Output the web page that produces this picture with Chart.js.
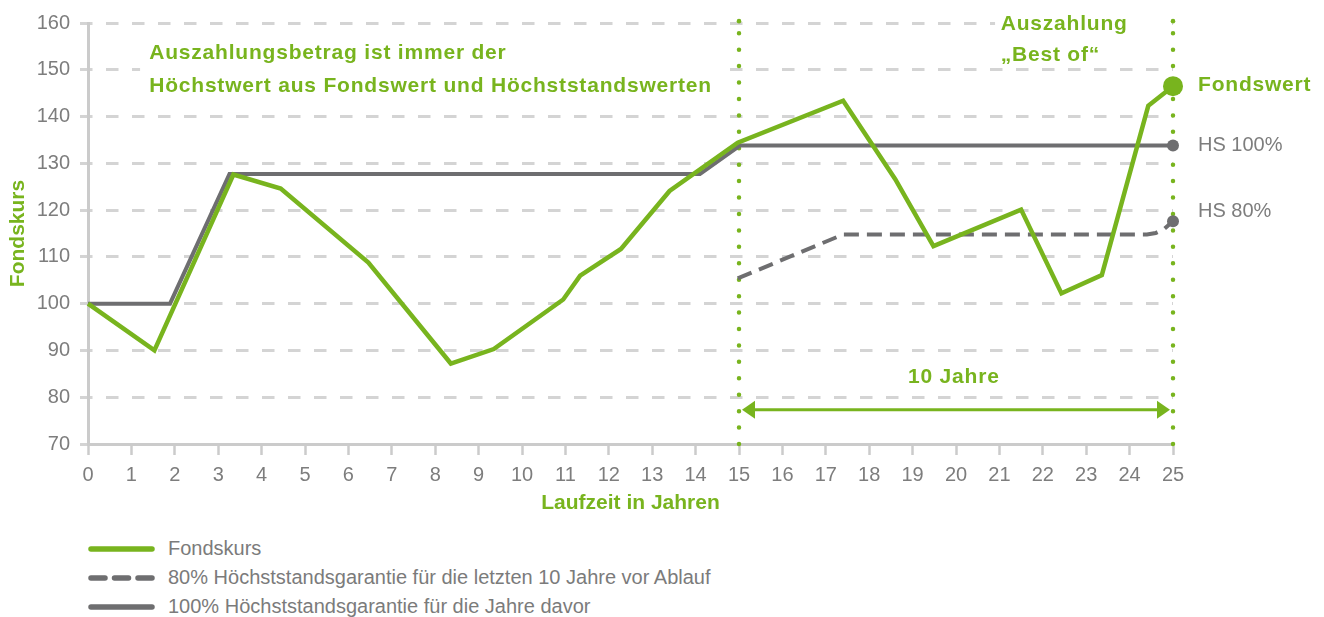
<!DOCTYPE html>
<html lang="de">
<head>
<meta charset="utf-8">
<title>Höchststandsgarantie</title>
<script src="https://cdn.jsdelivr.net/npm/chart.js@4.4.1/dist/chart.umd.min.js"></script>
<style>
  html, body { margin: 0; padding: 0; background: #fff; }
  #wrap { position: relative; width: 1324px; height: 617px; overflow: hidden; }
  #box { position: absolute; left: 0; top: 0; width: 1324px; height: 525px; }
  #legend { position: absolute; left: 88px; top: 534px; font: 20px "Liberation Sans", Arial, sans-serif; color: #7b7b7b; }
  #legend .row { height: 29px; display: flex; align-items: center; white-space: nowrap; }
  #legend svg { margin-right: 13px; }
</style>
</head>
<body>
<div id="wrap">
  <div id="box"><canvas id="chart"></canvas></div>
  <div id="legend"></div>
</div>
<script>
// Werte (Jahre / Kurs)
const fondsJahre = [0, 1.53, 3.35, 4.44, 6.46, 8.36, 9.35, 10.95, 11.34, 12.28, 13.4, 14.97, 17.4, 18.6, 19.48, 21.5, 22.43, 23.36, 24.43, 25];
const fondsKurs  = [100, 90, 127.6, 124.6, 108.8, 87.2, 90.3, 100.9, 106, 111.7, 124.1, 134.4, 143.4, 126.6, 112.3, 120.1, 102.2, 106.1, 142.3, 146.5];

const hs100Jahre = [0, 1.89, 3.26, 14.1, 15.02, 25];
const hs100Werte = [100, 100, 127.7, 127.7, 133.8, 133.8];

const hs80Jahre = [14.97, 17.4, 24.4, 24.6, 24.8, 25];
const hs80Werte = [105.4, 114.8, 114.8, 115.1, 116.0, 117.6];

const markJahre = [15, 25];          // Beginn und Ende der letzten 10 Jahre
const xMin = 0, xMax = 25, xStep = 1;
const yMin = 70, yMax = 160, yStep = 10;

const legendeTexte = [
  'Fondskurs',
  '80% Höchststandsgarantie für die letzten 10 Jahre vor Ablauf',
  '100% Höchststandsgarantie für die Jahre davor'
];

const gruen = '#78b41e';
const grau = '#6e6e70';
const rasterGrau = '#d4d4d4';
const achsenGrau = '#cbcbcb';
const textGrau = '#7d7d7d';
const schrift = '"Liberation Sans", Arial, Helvetica, sans-serif';

const toPoints = (xs, ys) => xs.map((x, i) => ({ x: x, y: ys[i] }));

// Texte im Diagramm (Position in Achsenwerten)
const hinweise = [
  { text: 'Auszahlungsbetrag ist immer der', x: 1.41, y: 153.6, align: 'left' },
  { text: 'Höchstwert aus Fondswert und Höchststandswerten', x: 1.41, y: 146.5, align: 'left' },
  { text: 'Auszahlung', x: 21.03, y: 159.8, align: 'left' },
  { text: '„Best of“', x: 21.03, y: 153.1, align: 'left' },
  { text: '10 Jahre', x: 19.95, y: 84.2, align: 'center' }
];
const aussparungen = [
  { x0: 1.2, x1: 14.68, y0: 142.7, y1: 157.4 },
  { x0: 20.9, x1: 24.7, y0: 150.8, y1: 162.3 }
];
const pfeil = { von: 15, bis: 25, y: 77.3 };

const annoPlugin = {
  id: 'anno',
  beforeDatasetsDraw(chart) {
    const { ctx, scales: { x, y } } = chart;
    ctx.save();
    ctx.fillStyle = '#fff';
    aussparungen.forEach(b => {
      const l = x.getPixelForValue(b.x0), r = x.getPixelForValue(b.x1);
      const t = y.getPixelForValue(b.y1), u = y.getPixelForValue(b.y0);
      ctx.fillRect(l, t, r - l, u - t);
    });
    ctx.restore();
  },
  afterDatasetsDraw(chart) {
    const { ctx, scales: { x, y } } = chart;
    ctx.save();
    // Doppelpfeil "10 Jahre"
    const ax1 = x.getPixelForValue(pfeil.von) + 3;
    const ax2 = x.getPixelForValue(pfeil.bis) - 3;
    const ay = y.getPixelForValue(pfeil.y);
    ctx.strokeStyle = gruen;
    ctx.fillStyle = gruen;
    ctx.lineWidth = 3;
    ctx.beginPath();
    ctx.moveTo(ax1 + 8, ay);
    ctx.lineTo(ax2 - 8, ay);
    ctx.stroke();
    [[ax1, 1], [ax2, -1]].forEach(([px, d]) => {
      ctx.beginPath();
      ctx.moveTo(px, ay);
      ctx.lineTo(px + d * 13, ay - 9);
      ctx.lineTo(px + d * 13, ay + 9);
      ctx.closePath();
      ctx.fill();
    });

    ctx.textBaseline = 'middle';
    ctx.letterSpacing = '0.8px';
    ctx.font = 'bold 21px ' + schrift;
    hinweise.forEach(h => {
      ctx.textAlign = h.align;
      ctx.fillText(h.text, x.getPixelForValue(h.x), y.getPixelForValue(h.y));
    });

    // Beschriftung der Endpunkte
    const ex = x.getPixelForValue(xMax) + 25;
    ctx.textAlign = 'left';
    ctx.fillText('Fondswert', ex, y.getPixelForValue(fondsKurs[fondsKurs.length - 1]) - 1);
    ctx.letterSpacing = '0px';
    ctx.font = '20px ' + schrift;
    ctx.fillStyle = textGrau;
    ctx.fillText('HS 100%', ex, y.getPixelForValue(hs100Werte[hs100Werte.length - 1]));
    ctx.fillText('HS 80%', ex, y.getPixelForValue(hs80Werte[hs80Werte.length - 1]) - 10);
    ctx.restore();
  }
};

const lastDot = (r) => (c) => c.dataIndex === c.dataset.data.length - 1 ? r : 0;

const markLinie = (jahr) => ({
  label: 'mark' + jahr,
  data: [{ x: jahr, y: yMin }, { x: jahr, y: yMax + 0.4 }],
  borderColor: gruen,
  borderWidth: 4.5,
  borderDash: [0, 16.43],
  borderCapStyle: 'round',
  pointRadius: [0, 2.3],
  pointBackgroundColor: gruen,
  pointBorderWidth: 0,
  clip: false
});

const chart = new Chart(document.getElementById('chart'), {
  type: 'line',
  data: {
    datasets: [
      {
        label: legendeTexte[0],
        data: toPoints(fondsJahre, fondsKurs),
        borderColor: gruen,
        backgroundColor: gruen,
        borderWidth: 4.5,
        pointRadius: lastDot(10),
        pointBackgroundColor: gruen,
        pointBorderWidth: 0,
        clip: false
      },
      {
        label: legendeTexte[2],
        data: toPoints(hs100Jahre, hs100Werte),
        borderColor: grau,
        backgroundColor: grau,
        borderWidth: 4,
        pointRadius: lastDot(6),
        pointBackgroundColor: grau,
        pointBorderWidth: 0,
        clip: false
      },
      {
        label: legendeTexte[1],
        data: toPoints(hs80Jahre, hs80Werte),
        borderColor: grau,
        backgroundColor: grau,
        borderWidth: 4,
        borderDash: [15, 8],
        pointRadius: lastDot(6),
        pointBackgroundColor: grau,
        pointBorderWidth: 0,
        clip: false
      },
      markLinie(markJahre[0]),
      markLinie(markJahre[1])
    ]
  },
  options: {
    responsive: true,
    maintainAspectRatio: false,
    animation: false,
    layout: { padding: { top: 23, right: 151, left: 0, bottom: 0 } },
    plugins: {
      legend: { display: false },
      tooltip: { enabled: false }
    },
    scales: {
      x: {
        type: 'linear',
        min: xMin,
        max: xMax,
        afterFit: s => { s.height = 81; },
        ticks: { stepSize: xStep, autoSkip: false, maxRotation: 0, color: textGrau, font: { family: schrift, size: 20 }, padding: 8 },
        grid: { drawOnChartArea: false, drawTicks: true, tickLength: 11, tickColor: achsenGrau, tickWidth: 2.5, color: achsenGrau },
        border: { color: achsenGrau, width: 3 },
        title: { display: true, text: 'Laufzeit in Jahren', color: gruen, font: { family: schrift, size: 21, weight: 'bold' }, padding: { top: 0, bottom: 9 } }
      },
      y: {
        min: yMin,
        max: yMax,
        afterFit: s => { s.width = 88; },
        ticks: { stepSize: yStep, color: textGrau, font: { family: schrift, size: 20 }, padding: 10 },
        grid: {
          color: c => c.tick && c.tick.value === yMin ? 'rgba(0,0,0,0)' : rasterGrau,
          lineWidth: 3,
          tickLength: 8,
          tickColor: rasterGrau,
          tickWidth: 3
        },
        border: { color: achsenGrau, width: 3, dash: [12.5, 13.5], dashOffset: 10 },
        title: { display: true, text: 'Fondskurs', color: gruen, font: { family: schrift, size: 21, weight: 'bold' }, padding: { top: 6, bottom: 0 } }
      }
    }
  },
  plugins: [annoPlugin]
});

// Legende als HTML (Reihenfolge wie im Original)
const legend = document.getElementById('legend');
[0, 2, 1].forEach(i => {
  const ds = chart.data.datasets[i];
  const dash = ds.borderDash ? 'stroke-dasharray="14 9.5"' : '';
  const row = document.createElement('div');
  row.className = 'row';
  row.innerHTML = '<svg width="67" height="8"><line x1="3" y1="4" x2="64" y2="4" stroke="' + ds.borderColor +
    '" stroke-width="5.5" stroke-linecap="round" ' + dash + '/></svg><span>' + ds.label + '</span>';
  legend.appendChild(row);
});
</script>
</body>
</html>
